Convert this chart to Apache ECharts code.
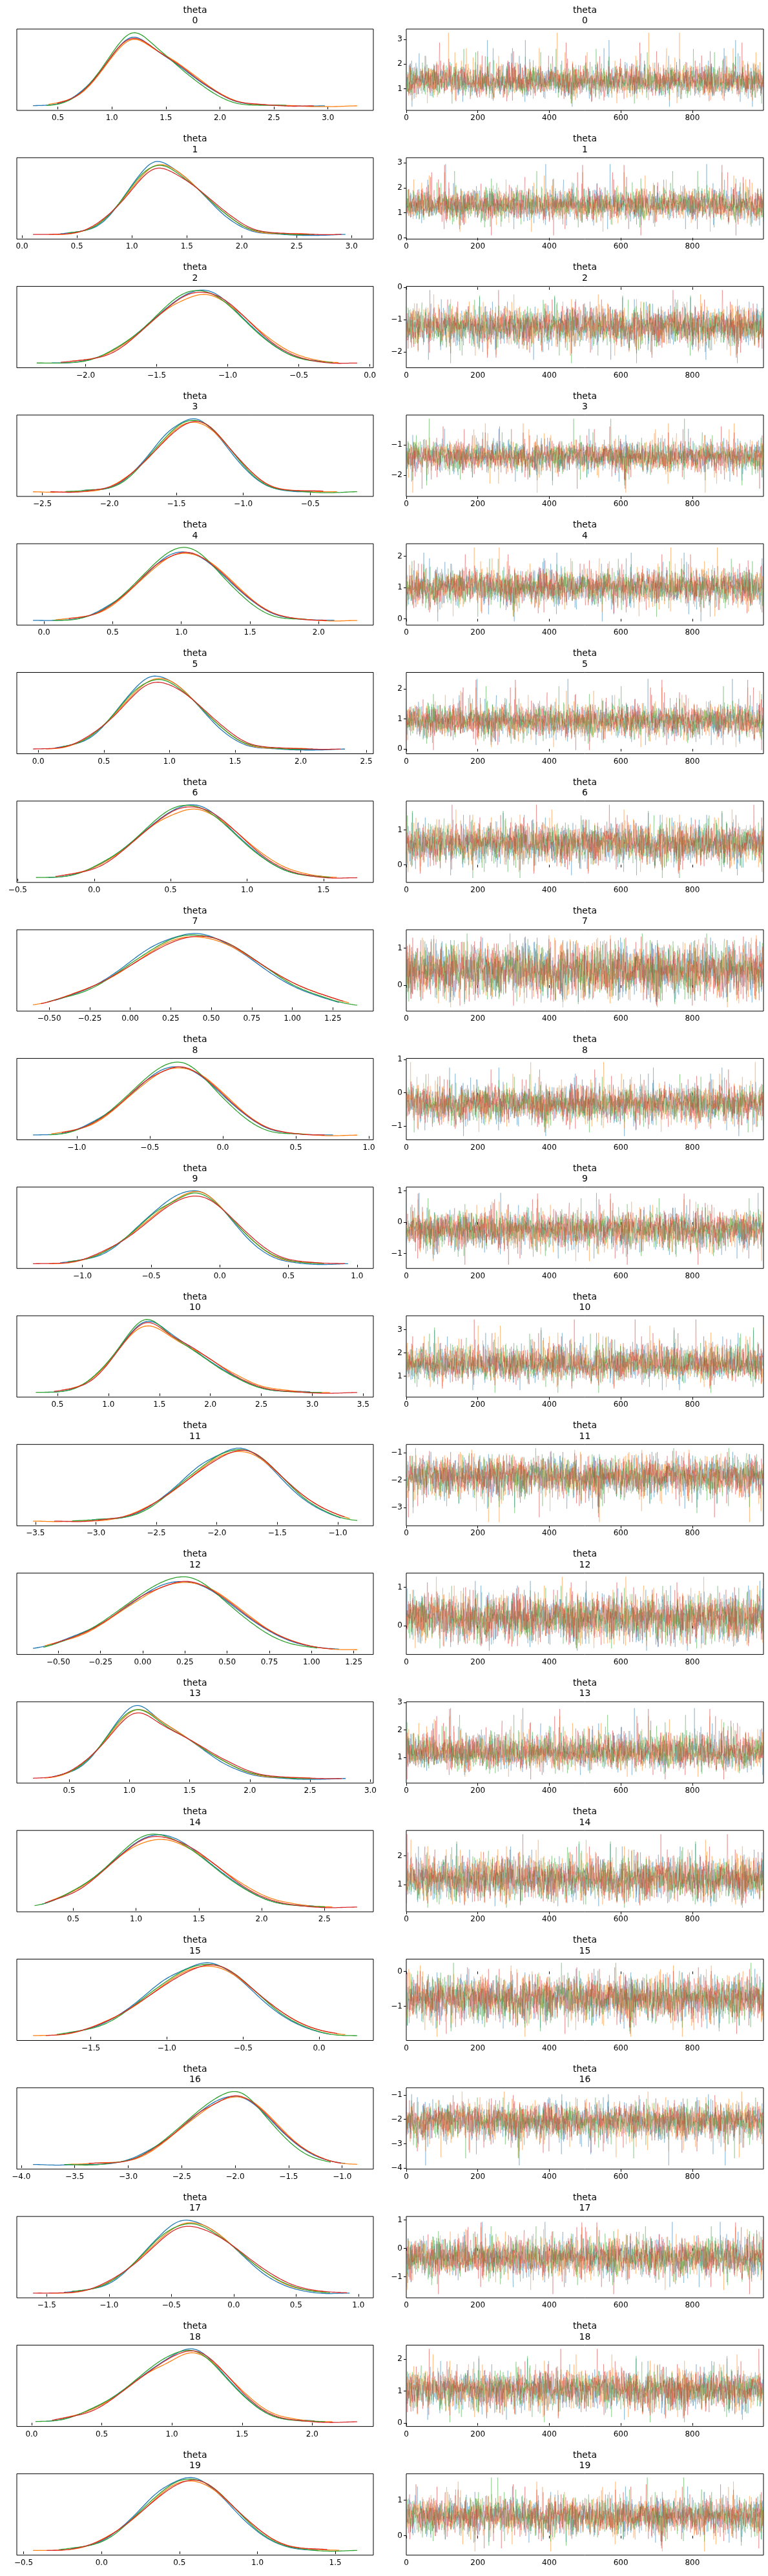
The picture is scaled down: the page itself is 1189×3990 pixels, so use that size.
<!DOCTYPE html>
<html>
<head>
<meta charset="utf-8">
<script src="https://cdn.jsdelivr.net/npm/echarts@6/dist/echarts.min.js"></script>
<style>
html, body { margin: 0; padding: 0; background: #fff; }
#chart { width: 1189px; height: 3990px; }
</style>
</head>
<body>
<div id="chart"></div>
<script>
// theta 0..19, four chains each: kde (left) and trace (right)
var varNames = ['0','1','2','3','4','5','6','7','8','9','10','11','12','13','14','15','16','17','18','19'];
var chainColors = ['#1f77b4', '#ff7f0e', '#2ca02c', '#d62728'];

// mode of the posterior, spread below / above it
var centers = [1.28, 1.30, -1.20, -1.38, 1.02, 0.93, 0.62, 0.40, -0.32, -0.22,
               1.48, -1.85, 0.22, 1.15, 1.20, -0.76, -2.05, -0.33, 1.08, 0.56];
var sdLow  = [0.29, 0.30, 0.32, 0.27, 0.30, 0.28, 0.31, 0.38, 0.30, 0.33,
              0.33, 0.40, 0.33, 0.28, 0.38, 0.35, 0.42, 0.34, 0.35, 0.28];
var sdHigh = [0.40, 0.36, 0.31, 0.26, 0.30, 0.30, 0.30, 0.38, 0.29, 0.29,
              0.48, 0.36, 0.31, 0.41, 0.41, 0.32, 0.37, 0.37, 0.29, 0.27];
// smallest / largest draw seen in each panel
var drawLow  = [0.27, 0.10, -2.37, -2.57, -0.08, -0.04, -0.40, -0.60, -1.30, -1.36,
                0.26, -3.52, -0.65, 0.20, 0.18, -1.88, -3.89, -1.61, 0.01, -0.44];
var drawHigh = [3.27, 3.05, -0.09, -0.15, 2.28, 2.43, 1.72, 1.40, 0.92, 1.00,
                3.44, -0.84, 1.27, 2.89, 2.76, 0.25, -0.86, 0.99, 2.32, 1.64];
// small chain to chain differences (in units of the spread)
var chainShift = [0.00, 0.04, -0.035, 0.02];
var chainScale = [1.00, 1.035, 0.97, 1.01];

var kdeTicks = [
  [0.5, 1.0, 1.5, 2.0, 2.5, 3.0],
  [0.0, 0.5, 1.0, 1.5, 2.0, 2.5, 3.0],
  [-2.0, -1.5, -1.0, -0.5, 0.0],
  [-2.5, -2.0, -1.5, -1.0, -0.5],
  [0.0, 0.5, 1.0, 1.5, 2.0],
  [0.0, 0.5, 1.0, 1.5, 2.0, 2.5],
  [-0.5, 0.0, 0.5, 1.0, 1.5],
  [-0.5, -0.25, 0.0, 0.25, 0.5, 0.75, 1.0, 1.25],
  [-1.0, -0.5, 0.0, 0.5, 1.0],
  [-1.0, -0.5, 0.0, 0.5, 1.0],
  [0.5, 1.0, 1.5, 2.0, 2.5, 3.0, 3.5],
  [-3.5, -3.0, -2.5, -2.0, -1.5, -1.0],
  [-0.5, -0.25, 0.0, 0.25, 0.5, 0.75, 1.0, 1.25],
  [0.5, 1.0, 1.5, 2.0, 2.5, 3.0],
  [0.5, 1.0, 1.5, 2.0, 2.5],
  [-1.5, -1.0, -0.5, 0.0],
  [-4.0, -3.5, -3.0, -2.5, -2.0, -1.5, -1.0],
  [-1.5, -1.0, -0.5, 0.0, 0.5, 1.0],
  [0.0, 0.5, 1.0, 1.5, 2.0],
  [-0.5, 0.0, 0.5, 1.0, 1.5]
];
var traceTicks = [
  [1, 2, 3], [0, 1, 2, 3], [-2, -1, 0], [-2, -1], [0, 1, 2],
  [0, 1, 2], [0, 1], [0, 1], [-1, 0, 1], [-1, 0, 1],
  [1, 2, 3], [-3, -2, -1], [0, 1], [1, 2, 3], [1, 2],
  [-1, 0], [-4, -3, -2, -1], [-1, 0, 1], [0, 1, 2], [0, 1]
];
var drawTickValues = [0, 200, 400, 600, 800];

// chain fluctuations (hand typed, only their order / rank is used)
var chainA = [0.3,-1.1,0.8,1.6,-0.4,0.1,-2.0,0.6,1.2,-0.7,
0.0,0.9,-1.5,0.4,-0.2,2.3,-0.9,0.5,-0.3,1.1,
-0.6,0.2,1.4,-1.2,0.7,-0.1,-0.8,1.9,0.3,-1.7,
0.5,-0.4,1.0,0.1,-2.6,0.8,-0.5,0.2,1.3,-1.0,
0.6,-0.2,-1.3,0.9,0.4,-0.7,1.7,-0.3,0.0,-1.1,
1.2,0.5,-0.6,2.0,-0.9,0.3,-0.1,-1.4,0.7,1.0,
-0.5,0.2,-2.1,0.6,1.5,-0.8,0.1,0.9,-0.3,-1.6,
0.4,2.8,-0.2,-0.7,1.1,0.0,-1.0,0.5,-0.4,1.3,
-1.2,0.8,0.2,-0.6,1.8,-1.9,0.3,-0.1,0.7,-0.9,
1.0,-0.3,0.6,-1.5,0.1,2.2,-0.5,0.4,-0.8,1.2,
-0.2,-1.3,0.9,0.3,-0.6,1.6,-2.3,0.5,0.0,-0.4,
1.4,-1.0,0.2,0.8,-0.7,-0.1,1.1,-1.8,0.6,0.3,
-0.9,1.9,-0.2,0.4,-1.2,0.7,0.1,-0.5,2.5,-1.1,
0.5,-0.3,-0.8,1.0,0.2,-1.6,0.9,-0.4,0.6,-0.1,
1.3,-2.0,0.3,0.7,-0.6,1.5,-0.2,-1.0,0.4,0.8,
-1.4,0.1,1.2,-0.5,0.0,-0.9,2.1,-0.3,0.6,-1.7,
0.2,1.0,-0.7,0.5,-1.2,0.3,1.7,-0.4,-2.9,0.8,
0.1,-0.6,1.1,-0.2,0.9,-1.3,0.4,-0.8,1.4,0.0,
-0.5,0.7,-1.9,0.3,1.6,-0.1,-1.0,0.6,0.2,-0.7,
1.2,-0.4,2.4,-1.5,0.5,-0.2,0.8,-1.1,0.1,1.0,
-0.6,0.3,-1.4,0.9,-0.3,1.8,-0.8,0.4,-2.2,0.6,
0.0,1.3,-0.5,-0.9,0.7,0.2,-1.6,1.1,-0.1,0.5,
-1.2,2.0,0.3,-0.7,0.6,-0.4,1.5,-1.0,0.1,-0.3,
0.9,-1.8,0.4,1.2,-0.6,0.2,-0.2,0.8,-1.3,2.6,
-0.5,0.7,-0.9,0.3,1.0,-1.1,0.5,-0.4,1.6,-0.8];
var chainB = [-0.7,0.4,1.3,-0.2,0.9,-1.6,0.1,0.6,-1.0,2.1,
0.3,-0.5,-1.3,0.8,0.0,1.5,-0.8,0.2,-2.4,0.7,
1.1,-0.3,0.5,-0.9,1.8,-0.1,-1.2,0.4,0.9,-0.6,
0.2,2.6,-0.4,-1.1,0.6,-0.2,1.0,-1.7,0.3,0.8,
-0.5,0.1,1.4,-0.8,-0.3,0.7,-2.0,1.2,0.4,-0.1,
0.9,-1.4,0.2,0.6,-0.7,1.7,0.0,-1.0,0.5,-0.4,
1.3,-0.2,-0.9,2.3,0.3,-1.5,0.8,-0.6,0.1,1.0,
-1.2,0.4,-0.3,0.7,-2.7,0.5,1.1,-0.1,-0.8,0.6,
0.2,-1.0,1.6,-0.5,0.3,0.9,-1.3,0.0,-0.4,1.2,
-0.7,1.9,-0.2,0.5,-1.1,0.8,0.1,-1.8,0.6,-0.3,
1.4,-0.6,0.2,-0.9,1.0,-0.1,2.0,-1.4,0.4,0.7,
-0.5,-1.2,0.9,0.3,-0.8,1.5,-0.3,0.1,-2.1,0.6,
1.1,-0.4,0.5,-1.0,0.2,1.3,-0.7,0.8,-0.2,-1.6,
0.4,2.9,-0.6,0.0,0.9,-1.1,0.3,-0.5,1.2,-0.9,
0.6,-0.1,-1.4,1.0,0.2,-0.7,1.8,-0.3,0.5,-1.2,
0.1,0.8,-2.3,0.4,1.4,-0.5,-0.2,1.1,-0.9,0.3,
-0.6,1.6,0.0,-1.3,0.7,-0.4,0.9,-1.0,2.2,0.1,
-0.8,0.5,-0.3,1.2,-1.7,0.6,0.2,-0.5,1.0,-0.1,
-1.1,0.4,1.7,-0.6,0.3,-2.5,0.8,0.1,-0.4,1.3,
-0.9,0.7,-0.2,0.5,-1.2,2.4,-0.7,0.0,0.9,-0.3,
1.1,-1.5,0.3,-0.8,0.6,0.2,-1.0,1.5,-0.4,0.8,
-0.1,-1.9,0.5,1.0,-0.6,0.3,1.3,-1.1,0.1,-0.5,
0.7,-0.3,2.0,-1.4,0.4,-0.8,0.9,0.2,-1.6,0.6,
-0.2,1.2,-0.7,0.3,-1.0,0.8,-0.4,1.9,-2.2,0.5,
0.0,-0.9,1.1,-0.3,0.6,-1.3,0.4,1.4,-0.6,0.1];
var chainC = [1.0,-0.4,0.2,-1.3,0.7,1.5,-0.8,0.3,-0.1,-2.2,
0.6,0.9,-0.6,0.1,-1.0,1.2,0.4,-0.3,2.0,-0.9,
-0.2,0.8,-1.5,0.5,0.0,-0.7,1.7,-1.2,0.3,0.6,
-0.4,-1.8,1.1,0.2,-0.5,0.9,-0.1,2.7,-1.1,0.4,
0.7,-0.9,0.1,-0.3,1.4,-1.6,0.5,0.0,-0.6,1.0,
-1.3,0.3,0.8,-0.2,-2.4,0.6,1.3,-0.5,0.2,-0.8,
1.6,-0.1,0.4,-1.1,0.9,0.1,-0.7,1.2,-0.4,2.2,
-0.9,0.5,-0.3,-1.4,0.7,0.0,1.1,-0.6,0.3,-1.9,
0.8,-0.2,1.5,-1.0,0.4,-0.5,0.2,1.8,-1.2,0.6,
-0.3,0.1,-2.0,0.9,-0.7,1.3,0.3,-0.4,0.5,-1.1,
1.0,-0.8,0.6,0.2,-1.5,2.5,-0.1,-0.6,0.7,0.4,
-1.2,0.3,-0.2,1.1,-0.9,0.8,-1.7,0.5,0.0,1.4,
-0.5,-1.0,0.6,0.2,1.9,-0.3,-0.8,0.4,-2.8,0.9,
0.1,1.2,-0.6,0.3,-1.3,0.7,-0.2,1.6,-0.4,-0.9,
0.5,-0.1,1.0,-1.4,0.8,0.2,-0.7,2.1,-0.5,0.3,
-1.1,0.6,0.0,-1.8,1.3,-0.3,0.4,-0.8,0.9,-0.2,
1.5,-1.2,0.2,0.7,-0.6,-1.5,1.1,0.3,-0.4,2.3,
-0.9,0.5,-0.1,1.2,-2.1,0.4,0.8,-0.7,0.1,-1.0,
0.6,1.7,-0.3,0.2,-1.3,0.9,-0.5,0.0,1.4,-0.8,
0.3,-1.6,0.7,-0.2,1.0,-0.6,2.6,-1.1,0.4,0.1,
-0.4,0.8,-1.9,0.5,1.2,-0.7,0.2,-1.2,0.6,-0.1,
1.8,-0.5,0.3,-0.9,0.0,1.1,-1.4,0.7,-0.3,0.4,
-2.3,0.9,0.2,-0.6,1.5,-0.2,-1.0,0.5,1.3,-0.8,
0.1,-0.4,2.0,-1.5,0.6,0.3,-0.7,1.0,-0.1,-1.2,
0.8,0.4,-0.9,1.6,-0.3,0.2,-1.7,0.7,-0.5,1.1];
var chainD = [-0.3,1.2,-0.9,0.5,0.1,-1.4,2.0,-0.6,0.8,0.2,
-1.1,0.4,1.6,-0.2,-0.7,0.9,-2.1,0.3,1.0,-0.5,
0.6,-1.3,0.0,1.4,-0.8,0.2,-0.4,2.4,-1.0,0.7,
0.1,-0.6,1.1,-1.7,0.5,-0.1,0.8,-0.9,0.3,1.5,
-2.5,0.6,-0.3,1.0,0.2,-1.2,0.7,-0.5,1.8,-0.1,
0.4,-0.8,1.3,-1.5,0.0,0.9,-0.4,0.2,-1.0,2.2,
-0.6,0.5,-1.9,0.8,0.3,-0.2,1.1,-0.7,0.6,-1.3,
1.7,0.1,-0.5,-1.1,0.9,0.4,-0.3,1.4,-2.2,0.2,
-0.8,1.0,0.5,-0.4,-1.6,0.7,1.2,-0.1,0.3,-0.9,
2.7,-0.6,0.0,0.8,-1.2,0.4,-0.2,1.5,-0.7,0.1,
-1.4,0.6,0.9,-0.3,1.9,-1.0,0.2,-0.5,0.7,-1.8,
0.3,1.1,-0.6,0.5,-0.1,-0.9,1.3,0.0,-2.4,0.8,
0.4,-0.4,1.6,-1.1,0.2,0.6,-0.7,1.0,-0.2,-1.3,
0.9,0.3,-0.8,2.1,-0.5,0.1,-1.5,0.7,0.4,-0.3,
1.2,-1.0,0.5,-0.1,0.8,-1.7,0.2,1.4,-0.6,0.0,
-0.9,2.5,-0.4,0.6,-1.2,0.3,0.9,-0.2,-2.0,1.1,
0.1,-0.7,0.5,1.3,-0.8,0.4,-1.4,0.7,-0.3,1.8,
-0.5,0.2,-1.1,0.9,0.0,-0.6,1.6,-1.9,0.3,0.6,
-0.2,1.0,-0.9,0.4,2.3,-1.3,0.1,-0.4,0.8,-0.7,
1.1,-0.1,-1.6,0.5,0.2,1.4,-0.8,0.3,-2.6,0.9,
0.0,-0.5,1.2,-1.0,0.6,0.3,-0.3,1.7,-1.2,0.4,
-0.7,0.8,0.1,-1.5,1.0,-0.2,2.0,-0.6,0.5,-0.9,
0.2,1.3,-0.4,-1.1,0.7,0.0,-1.8,0.9,0.3,-0.5,
1.5,-0.8,0.4,-0.2,-1.3,1.1,0.6,-0.7,2.2,-1.0,
0.1,0.5,-1.4,0.8,-0.3,1.6,-0.9,0.2,-0.6,1.0];
var chainNoise = [chainA, chainB, chainC, chainD];
var drawCount = 1000;
var blockSteps = [73, 37, 113, 151];   // order in which each block of 250 draws walks the typed values

(function () {
    var myChart = echarts.init(document.getElementById('chart'));
    var font = 'DejaVu Sans';
    var rowPitch = 199.3, rowTop = 45, boxH = 126;
    var kdeLeft = 26, kdeW = 552, trLeft = 629, trW = 553;

    // inverse normal cdf (Acklam)
    function invNorm(p) {
        var a = [-3.969683028665376e+01, 2.209460984245205e+02, -2.759285104469687e+02, 1.383577518672690e+02, -3.066479806614716e+01, 2.506628277459239e+00];
        var b = [-5.447609879822406e+01, 1.615858368580409e+02, -1.556989798598866e+02, 6.680131188771972e+01, -1.328068155288572e+01];
        var c = [-7.784894002430293e-03, -3.223964580411365e-01, -2.400758277161838e+00, -2.549732539343734e+00, 4.374664141464968e+00, 2.938163982698783e+00];
        var d = [7.784695709041462e-03, 3.224671290700398e-01, 2.445134137142996e+00, 3.754408661907416e+00];
        var q, r;
        if (p < 0.02425) {
            q = Math.sqrt(-2 * Math.log(p));
            return (((((c[0] * q + c[1]) * q + c[2]) * q + c[3]) * q + c[4]) * q + c[5]) / ((((d[0] * q + d[1]) * q + d[2]) * q + d[3]) * q + 1);
        }
        if (p > 1 - 0.02425) {
            q = Math.sqrt(-2 * Math.log(1 - p));
            return -(((((c[0] * q + c[1]) * q + c[2]) * q + c[3]) * q + c[4]) * q + c[5]) / ((((d[0] * q + d[1]) * q + d[2]) * q + d[3]) * q + 1);
        }
        q = p - 0.5; r = q * q;
        return (((((a[0] * r + a[1]) * r + a[2]) * r + a[3]) * r + a[4]) * r + a[5]) * q / (((((b[0] * r + b[1]) * r + b[2]) * r + b[3]) * r + b[4]) * r + 1);
    }

    // pooled ranks of the typed fluctuations -> normal scores
    var pooled = [];
    chainNoise.forEach(function (arr, ci) {
        arr.forEach(function (z, i) { pooled.push({ z: z, ci: ci, i: i }); });
    });
    pooled.sort(function (p, q) { return p.z - q.z || p.i - q.i || p.ci - q.ci; });
    var scores = chainNoise.map(function (arr) { return new Array(arr.length); });
    pooled.forEach(function (p, r) { scores[p.ci][p.i] = invNorm((r + 0.5) / pooled.length); });

    var zTop = invNorm((pooled.length - 0.5) / pooled.length), zBot = -zTop;

    function fmt(dec) {
        return function (v) {
            return Number(v).toFixed(dec).replace('-', '\u2212');
        };
    }

    // one standardised value -> value of variable v (tails reach the seen extremes)
    function scaleZ(v, z) {
        if (z >= 0) {
            var b = centers[v] + 2 * sdHigh[v];
            if (z <= 2) return centers[v] + z * sdHigh[v];
            return b + (z - 2) / (zTop - 2) * (drawHigh[v] - b);
        }
        var bl = centers[v] - 2 * sdLow[v];
        if (z >= -2) return centers[v] + z * sdLow[v];
        return bl + (z + 2) / (zBot + 2) * (drawLow[v] - bl);
    }

    function chainDraws(v, c) {
        var z = scores[(c + v) % 4];
        var t = (c + 2 * v) % 4;
        var n = z.length, off = (v * 61 + c * 17) % n;
        var out = [];
        for (var i = 0; i < drawCount; i++) {
            var b = Math.floor(i / n) % 4;
            var zz = z[(off + i * blockSteps[(b + v) % 4]) % n];
            zz = Math.max(zBot, Math.min(zTop, zz * chainScale[t] + chainShift[t]));
            out.push(scaleZ(v, zz));
        }
        return out;
    }

    // gaussian kde over the chain's own range
    function kde(s) {
        var n = s.length, mean = 0, sd = 0;
        s.forEach(function (x) { mean += x; });
        mean /= n;
        s.forEach(function (x) { sd += (x - mean) * (x - mean); });
        sd = Math.sqrt(sd / (n - 1));
        var bw = 0.3 * sd;
        var lo = Math.min.apply(null, s), hi = Math.max.apply(null, s);
        var pts = [];
        for (var k = 0; k <= 160; k++) {
            var x = lo + (hi - lo) * k / 160, d = 0;
            for (var j = 0; j < n; j++) {
                var u = (x - s[j]) / bw;
                d += Math.exp(-0.5 * u * u);
            }
            pts.push([x, d / (n * bw * Math.sqrt(2 * Math.PI))]);
        }
        return pts;
    }

    var grid = [], xAxis = [], yAxis = [], series = [], graphic = [];
    var tickStyle = { show: true, length: 4, lineStyle: { color: '#000', width: 1 } };
    var labelStyle = { color: '#000', fontSize: 12, fontFamily: font };

    varNames.forEach(function (name, v) {
        var top = rowTop + rowPitch * v;
        var span = drawHigh[v] - drawLow[v];
        var aMin = drawLow[v] - 0.05 * span, aMax = drawHigh[v] + 0.05 * span;

        grid.push({ left: kdeLeft, top: top, width: kdeW, height: boxH, show: true, borderColor: '#000', borderWidth: 1 });
        grid.push({ left: trLeft, top: top, width: trW, height: boxH, show: true, borderColor: '#000', borderWidth: 1 });

        var kt = kdeTicks[v].filter(function (t) { return t >= aMin && t <= aMax; });
        var dec = (kdeTicks[v][1] - kdeTicks[v][0]) < 0.5 ? 2 : 1;
        xAxis.push({
            gridIndex: 2 * v, type: 'value', min: aMin, max: aMax,
            axisLine: { show: false }, splitLine: { show: false },
            axisTick: Object.assign({ customValues: kt }, tickStyle),
            axisLabel: Object.assign({ customValues: kt, margin: 6, formatter: fmt(dec) }, labelStyle)
        });
        xAxis.push({
            gridIndex: 2 * v + 1, type: 'value', min: 0, max: drawCount - 1,
            axisLine: { show: false }, splitLine: { show: false },
            axisTick: Object.assign({ customValues: drawTickValues }, tickStyle),
            axisLabel: Object.assign({ customValues: drawTickValues, margin: 6, formatter: fmt(0) }, labelStyle)
        });

        var ymax = 0, kdes = [];
        for (var c = 0; c < 4; c++) {
            var draws = chainDraws(v, c);
            var k = kde(draws.slice(0, 250));
            k.forEach(function (p) { if (p[1] > ymax) ymax = p[1]; });
            kdes.push(k);
            series.push({
                type: 'line', xAxisIndex: 2 * v + 1, yAxisIndex: 2 * v + 1,
                data: draws.map(function (y, i) { return [i, y]; }),
                showSymbol: false, silent: true, z: 2, sampling: false,
                lineStyle: { color: chainColors[c], width: 0.8, opacity: 0.4 }
            });
        }
        kdes.forEach(function (k, c) {
            series.push({
                type: 'line', xAxisIndex: 2 * v, yAxisIndex: 2 * v,
                data: k, showSymbol: false, silent: true, z: 3,
                lineStyle: { color: chainColors[c], width: 1.3 }
            });
        });

        yAxis.push({
            gridIndex: 2 * v, type: 'value', min: -0.05 * ymax, max: 1.05 * ymax,
            axisLine: { show: false }, axisTick: { show: false },
            axisLabel: { show: false }, splitLine: { show: false }
        });
        var tt = traceTicks[v].filter(function (t) { return t >= aMin && t <= aMax; });
        yAxis.push({
            gridIndex: 2 * v + 1, type: 'value', min: aMin, max: aMax,
            axisLine: { show: false }, splitLine: { show: false },
            axisTick: Object.assign({ customValues: tt }, tickStyle),
            axisLabel: Object.assign({ customValues: tt, margin: 6, formatter: fmt(0) }, labelStyle)
        });

        [kdeLeft + kdeW / 2, trLeft + trW / 2].forEach(function (cx) {
            graphic.push({
                type: 'text', left: cx - 30, top: top - 37, silent: true,
                style: {
                    text: 'theta\n' + name, width: 60, align: 'center',
                    textAlign: 'center', fill: '#000', fontSize: 14,
                    lineHeight: 16.5, fontFamily: font, x: 30, y: 0
                }
            });
        });
    });

    var option = {
        animation: false,
        backgroundColor: '#fff',
        grid: grid,
        xAxis: xAxis,
        yAxis: yAxis,
        series: series,
        graphic: graphic
    };
    myChart.setOption(option);
    window.addEventListener('resize', function () {
        myChart.resize();
    });
})();
</script>
</body>
</html>
